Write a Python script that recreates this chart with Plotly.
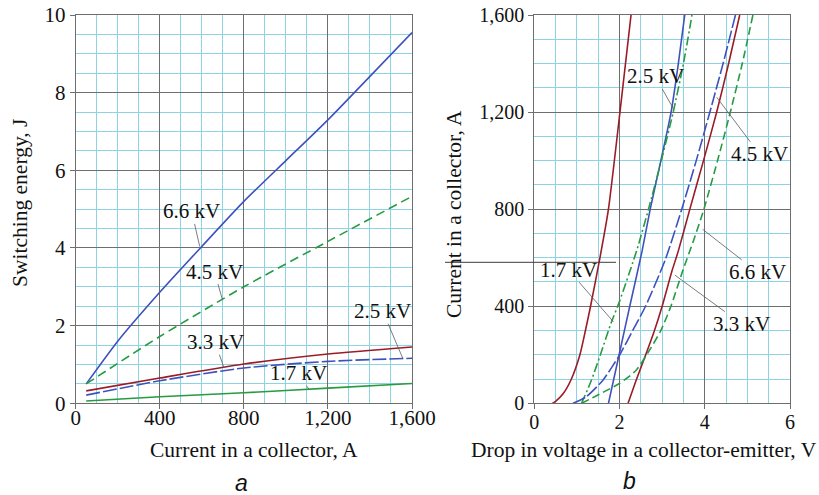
import plotly.graph_objects as go

# ---------------- data: panel a (switching energy vs collector current) ----------------
cur_66 = [50, 200, 400, 600, 800, 1000, 1200, 1400, 1600]
e_66 = [0.5, 1.6, 2.86, 4.04, 5.2, 6.25, 7.3, 8.42, 9.55]
cur_45 = [50, 400, 800, 1200, 1600]
e_45 = [0.5, 1.72, 3.0, 4.17, 5.33]
cur_33 = [50, 400, 800, 1200, 1600]
e_33 = [0.32, 0.65, 1.01, 1.27, 1.45]
cur_25 = [50, 400, 800, 1200, 1600]
e_25 = [0.21, 0.58, 0.91, 1.08, 1.16]
cur_17 = [50, 400, 800, 1200, 1600]
e_17 = [0.06, 0.17, 0.27, 0.39, 0.51]

# ---------------- data: panel b (collector current vs collector-emitter drop) ----------------
i_red1 = [0, 8, 40, 100, 200, 300, 400, 590, 800, 1200, 1600]
v_red1 = [0.43, 0.5, 0.68, 0.87, 1.07, 1.2, 1.32, 1.53, 1.74, 2.01, 2.27]
i_25 = [0, 200, 400, 628, 800, 1000, 1200, 1400, 1600]
v_25 = [1.74, 1.99, 2.24, 2.53, 2.72, 2.97, 3.21, 3.38, 3.53]
i_17 = [0, 95, 200, 330, 420, 628, 800, 1000, 1200, 1400, 1600]
v_17 = [1.11, 1.34, 1.55, 1.8, 2.0, 2.4, 2.68, 2.98, 3.26, 3.5, 3.7]
i_45 = [0, 27, 95, 165, 198, 300, 400, 590, 800, 1000, 1200, 1400, 1600]
v_45 = [0.91, 1.22, 1.61, 1.88, 2.0, 2.31, 2.61, 3.07, 3.46, 3.8, 4.12, 4.43, 4.72]
i_33 = [0, 95, 198, 300, 400, 545, 628, 800, 1000, 1200, 1400, 1600]
v_33 = [2.2, 2.39, 2.61, 2.82, 3.0, 3.23, 3.38, 3.65, 3.97, 4.28, 4.56, 4.82]
i_66 = [0, 34, 82, 136, 218, 300, 402, 545, 672, 800, 1000, 1200, 1400, 1600]
v_66 = [1.11, 1.49, 2.0, 2.39, 2.7, 2.97, 3.21, 3.48, 3.74, 3.98, 4.3, 4.6, 4.88, 5.13]

left_xticks = [0, 400, 800, 1200, 1600]
left_yticks = [0, 2, 4, 6, 8, 10]
right_xticks = [0, 2, 4, 6]
right_yticks = [0, 400, 800, 1200, 1600]

BLUE = "rgb(62,82,190)"
GREEN = "rgb(38,155,65)"
RED = "rgb(155,28,38)"
CYAN = "rgb(140,212,228)"
MAJOR = "rgb(110,110,110)"
SERIF = "Liberation Serif"

W, H = 819, 495


def px(x):
    return x / W


def py(y):
    return 1 - y / H


fig = go.Figure()


def add(x, y, color, dash, xa, ya, width=1.6):
    fig.add_trace(go.Scatter(x=x, y=y, mode="lines", xaxis=xa, yaxis=ya,
                             line=dict(color=color, width=width, dash=dash, shape="spline", smoothing=0.6),
                             hoverinfo="skip", showlegend=False))


# panel a
add(cur_66, e_66, BLUE, "solid", "x", "y")
add(cur_45, e_45, GREEN, "9px,5px", "x", "y")
add(cur_33, e_33, RED, "solid", "x", "y")
add(cur_25, e_25, BLUE, "14px,3px", "x", "y")
add(cur_17, e_17, GREEN, "solid", "x", "y")

# panel b
add(v_red1, i_red1, RED, "solid", "x2", "y2")
add(v_25, i_25, BLUE, "solid", "x2", "y2")
add(v_17, i_17, GREEN, "9px,3px,2px,3px", "x2", "y2")
add(v_45, i_45, BLUE, "13px,3px", "x2", "y2")
add(v_33, i_33, RED, "solid", "x2", "y2")
add(v_66, i_66, GREEN, "8px,4px", "x2", "y2")

axis_common = dict(showline=True, mirror=True, linecolor=MAJOR, linewidth=1,
                   showgrid=True, gridcolor=MAJOR, gridwidth=1, zeroline=False,
                   ticks="outside", ticklen=5, tickcolor=MAJOR, tickwidth=1,
                   automargin=False)

fig.update_layout(
    width=W, height=H,
    margin=dict(l=0, r=0, t=0, b=0),
    paper_bgcolor="white", plot_bgcolor="white",
    font=dict(family=SERIF, color="#111"),
    xaxis=dict(domain=[px(75.7), px(412)], range=[0, 1600], tickvals=left_xticks,
               tickformat=",", tickfont=dict(family=SERIF, size=21, color="#111"), anchor="y",
               ticklabelstandoff=-10,
               minor=dict(dtick=100, showgrid=True, gridcolor=CYAN, gridwidth=1, ticks=""),
               **axis_common),
    yaxis=dict(domain=[py(403.3), py(15)], range=[0, 10], tickvals=left_yticks,
               tickfont=dict(family=SERIF, size=21, color="#111"), anchor="x",
               minor=dict(dtick=0.5, showgrid=True, gridcolor=CYAN, gridwidth=1, ticks=""),
               **axis_common),
    xaxis2=dict(domain=[px(534.3), px(790)], range=[0, 6], tickvals=right_xticks,
                tickfont=dict(family=SERIF, size=20, color="#111"), anchor="y2",
                ticklabelstandoff=-4,
                minor=dict(dtick=0.5, showgrid=True, gridcolor=CYAN, gridwidth=1, ticks=""),
                **axis_common),
    yaxis2=dict(domain=[py(403.3), py(15)], range=[0, 1600], tickvals=right_yticks,
                tickformat=",", tickfont=dict(family=SERIF, size=20, color="#111"), anchor="x2",
                minor=dict(dtick=100, showgrid=True, gridcolor=CYAN, gridwidth=1, ticks=""),
                **axis_common),
)

anns = []


def label(text, x, y, ax, ay, xr, yr):
    anns.append(dict(text=text, x=x, y=y, xref=xr, yref=yr, ax=ax, ay=ay,
                     showarrow=True, arrowhead=0, arrowwidth=0.8, arrowcolor="rgb(90,90,90)",
                     font=dict(family=SERIF, size=21, color="#111"), borderpad=0))


# panel a labels
label("6.6 kV", 590, 4.04, -8, -35, "x", "y")
label("4.5 kV", 698, 2.67, -8, -28, "x", "y")
label("3.3 kV", 706, 0.905, -9, -26, "x", "y")
label("1.7 kV", 1110, 0.36, -11, -16, "x", "y")
label("2.5 kV", 1556, 1.16, -20, -47, "x", "y")

# panel b labels
label("2.5 kV", 3.26, 1215, -18, -32, "x2", "y2")
label("4.5 kV", 4.28, 1261, 43, 57, "x2", "y2")
label("1.7 kV", 1.855, 336, -45, -52, "x2", "y2")
label("6.6 kV", 3.95, 717, 55, 43, "x2", "y2")
label("3.3 kV", 3.30, 528, 67, 49, "x2", "y2")


def text(t, x, y, size=21.5, angle=0, family=SERIF):
    anns.append(dict(text=t, x=px(x), y=py(y), xref="paper", yref="paper",
                     showarrow=False, textangle=angle, xanchor="center", yanchor="middle",
                     font=dict(family=family, size=size, color="#111")))


text("Current in a collector, A", 254, 450)
text("Drop in voltage in a collector-emitter, V", 644, 450)
text("Switching energy, J", 20, 203, angle=-90)
text("Current in a collector, A", 454, 214, angle=-90)
text("<i>a</i>", 241.7, 483, size=23, family="Liberation Sans")
text("<i>b</i>", 629, 481, size=23, family="Liberation Sans")

fig.update_layout(annotations=anns)

fig.add_shape(type="line", xref="paper", yref="paper", x0=px(445), x1=px(616),
              y0=py(262.3), y1=py(262.3), line=dict(color="rgb(60,60,60)", width=1), layer="above")

fig.write_html("out.html")
